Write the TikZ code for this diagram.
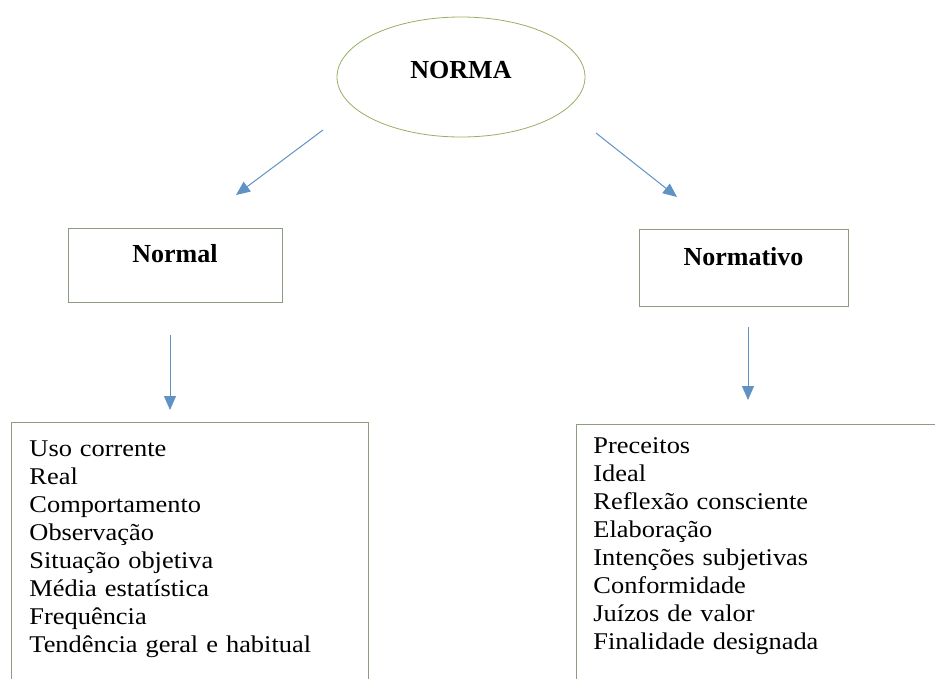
\documentclass[tikz,border=0pt]{standalone}
\usepackage{fontspec}
\setmainfont{Liberation Serif}
\newfontfamily\listfont[FakeStretch=1.1]{Liberation Serif}
\usetikzlibrary{shapes.geometric,arrows.meta}
\definecolor{linkblue}{RGB}{96,146,196}
\definecolor{boxgreen}{RGB}{140,156,128}
\definecolor{ovalgreen}{RGB}{150,175,100}
\begin{document}
\begin{tikzpicture}[x=1pt,y=-1pt,
    oval/.style={ellipse,draw=ovalgreen,line width=0.8pt,minimum width=248pt,
        minimum height=120pt,font=\fontsize{26}{28}\selectfont\bfseries,text depth=14pt},
    headbox/.style={draw=boxgreen,line width=0.9pt,
        font=\fontsize{26}{28}\selectfont\bfseries,text depth=23pt},
    listbox/.style={draw=boxgreen,line width=0.9pt,anchor=north west,align=left,
        font=\listfont\fontsize{24}{28}\selectfont,text depth=290pt},
    link/.style={draw=linkblue,line width=1pt,-{Triangle[length=14pt,width=12pt]}}]
        \useasboundingbox (0,0) rectangle (935,678);
        \clip (0,0) rectangle (935,678);
        \node[oval] (norma) at (461,77) {NORMA};
        \node[headbox,minimum width=214pt,minimum height=74pt] (normal) at (175,265) {Normal};
        \node[headbox,minimum width=209pt,minimum height=77pt] (normativo) at (743.5,267.5) {Normativo};
        \node[listbox,text width=321pt,inner xsep=18pt,inner ysep=18pt] (usos) at (11,422)
            {Uso corrente\\Real\\Comportamento\\Observação\\Situação objetiva\\
             Média estatística\\Frequência\\Tendência geral e habitual};
        \node[listbox,text width=366pt,inner xsep=17pt,inner ysep=13pt] (valores) at (576,424)
            {Preceitos\\Ideal\\Reflexão consciente\\Elaboração\\Intenções subjetivas\\
             Conformidade\\Juízos de valor\\Finalidade designada};
        \coordinate (a1) at (323,130);
        \coordinate (b1) at (236,195);
        \coordinate (a2) at (596,133);
        \coordinate (b2) at (677,197);
        \coordinate (a3) at (170,335);
        \coordinate (b3) at (170,410);
        \coordinate (a4) at (748,327);
        \coordinate (b4) at (748,400);
        \draw[link] (a1) -- (b1);
        \draw[link] (a2) -- (b2);
        \draw[link] (a3) -- (b3);
        \draw[link] (a4) -- (b4);
\end{tikzpicture}
\end{document}
